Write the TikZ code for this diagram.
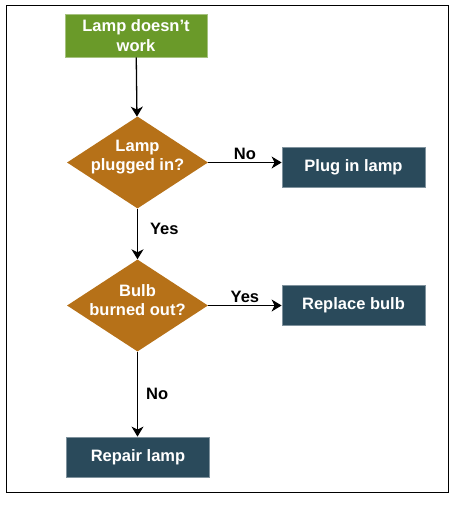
\documentclass[tikz,border=0pt]{standalone}
\usepackage{fontspec}
\setmainfont{Liberation Sans}
\usetikzlibrary{shapes.geometric,arrows.meta}

\definecolor{startgreen}{HTML}{6A9A29}
\definecolor{decisionbrown}{HTML}{B67118}
\definecolor{actionblue}{HTML}{2A4A5B}

\tikzset{
    startbox/.style={rectangle, fill=startgreen, draw=startgreen!60!white, line width=0.8pt,
        text=white, align=center, minimum width=142pt, minimum height=43pt, inner sep=0pt},
    decision/.style={diamond, aspect=1.55, fill=decisionbrown,
        minimum width=141pt, minimum height=92pt, inner sep=0pt},
    decisiontext/.style={text=white, align=center, inner sep=0pt},
    actionbox/.style={rectangle, fill=actionblue, draw=actionblue!60!white, line width=0.8pt,
        text=white, align=center, minimum width=143pt, minimum height=40pt, inner sep=0pt},
    flow/.style={line width=1.3pt, -{Stealth[length=10pt, width=12pt, inset=3pt]}},
    answer/.style={text=black, inner sep=2pt}
}

\begin{document}
\begin{tikzpicture}[x=1pt, y=-1pt, font=\bfseries\fontsize{16.5}{19.5}\selectfont]

    \useasboundingbox (0,0) rectangle (473,531);
    \draw[black, line width=1pt] (6,5) rectangle (448,492);

    \node[startbox] (start) at (136,35.5) {Lamp doesn’t\\work};
    \node[decision] (plugged) at (137.5,162.5) {};
    \node[decisiontext] (pluggedtext) at (137.5,157) {Lamp\\plugged in?};
    \node[actionbox] (plugin) at (353.5,167) {Plug in lamp};
    \node[decision] (burned) at (137.5,305.5) {};
    \node[decisiontext] (burnedtext) at (137.5,300) {Bulb\\burned out?};
    \node[actionbox] (replace) at (353.5,305.5) {Replace bulb};
    \node[actionbox] (repair) at (138,457) {Repair lamp};

    \draw[flow] (start) -- (plugged);
    \draw[flow] (plugged.east) -- node[answer, above] {No} (plugged.east -| plugin.west);
    \draw[flow] (plugged) -- node[answer, right=10pt, pos=0.4] {Yes} (burned);
    \draw[flow] (burned.east) -- node[answer, above] {Yes} (burned.east -| replace.west);
    \draw[flow] (burned.south) -- node[answer, right=6pt] {No} (repair.north -| burned.south);

\end{tikzpicture}
\end{document}
